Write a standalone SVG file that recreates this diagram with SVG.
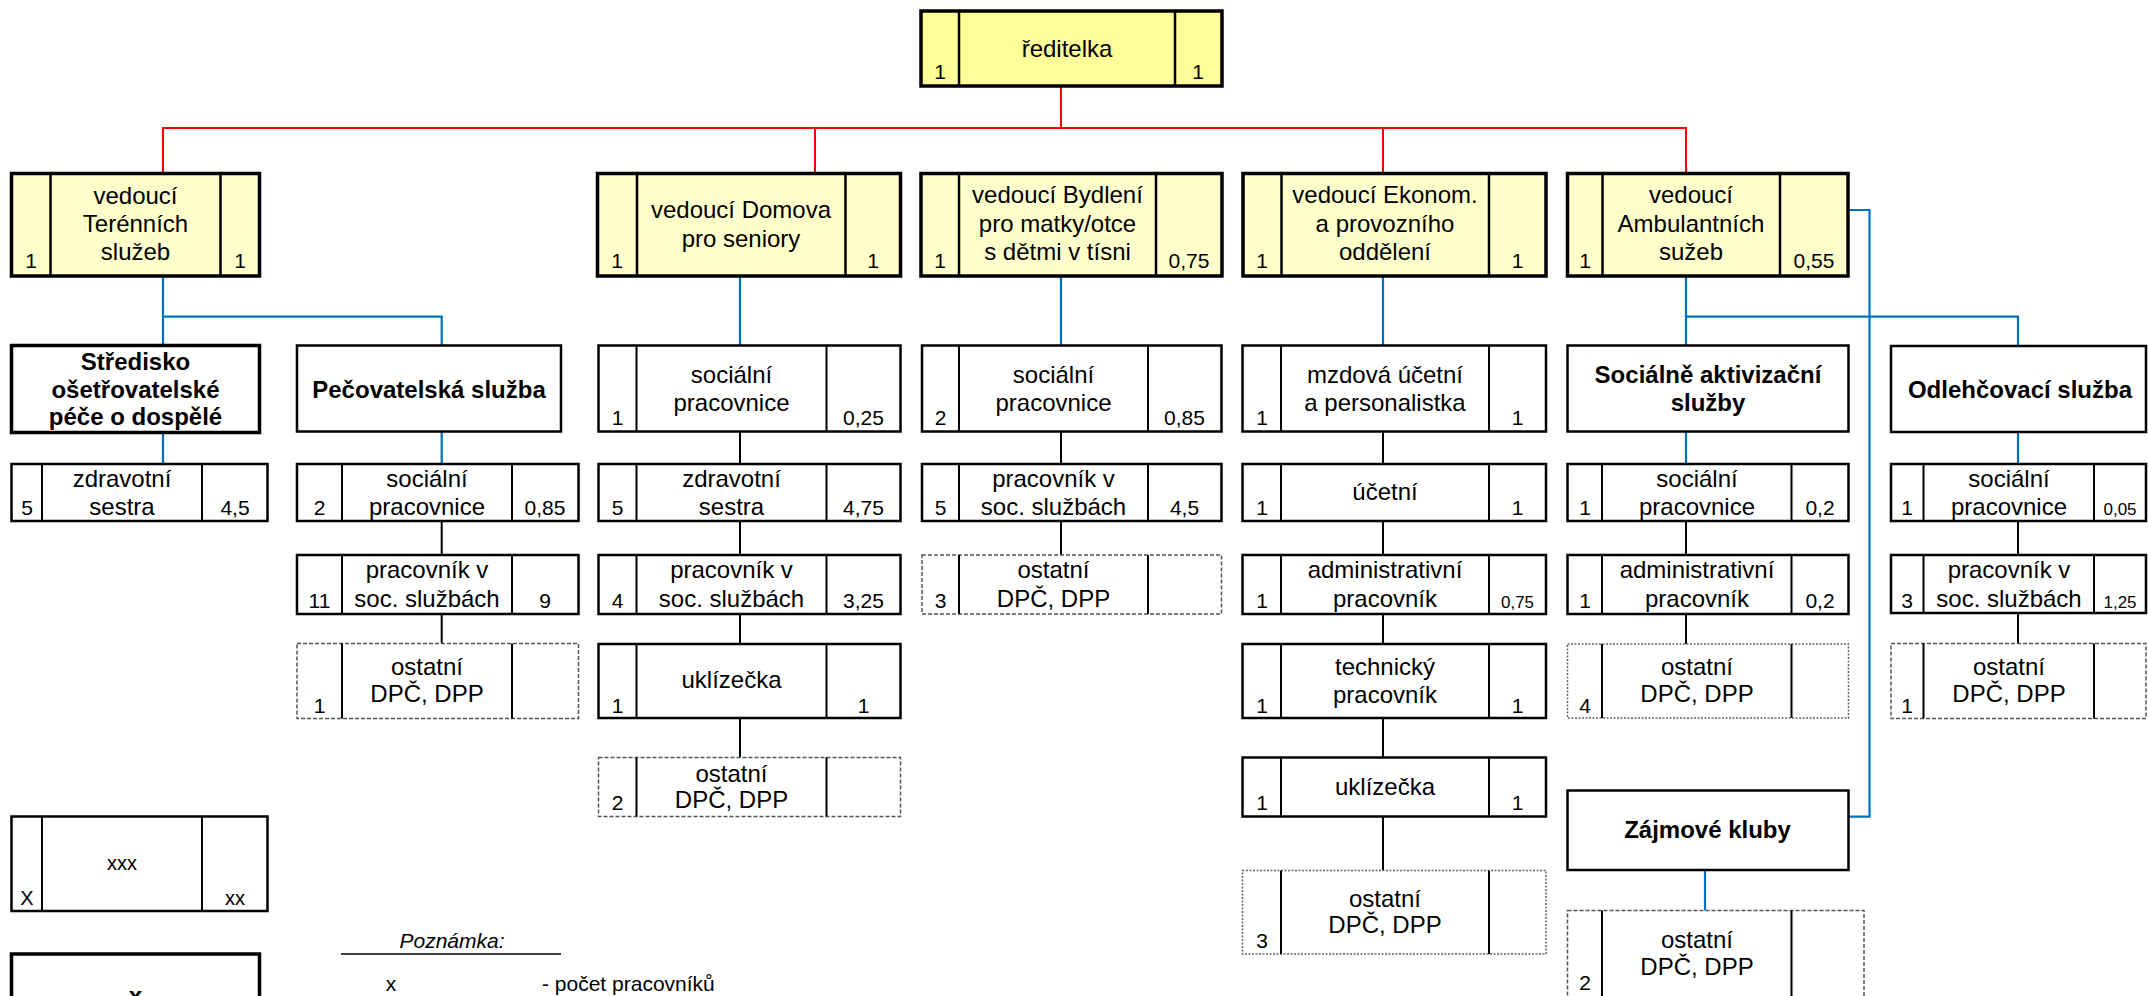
<svg xmlns="http://www.w3.org/2000/svg" width="2148" height="996" viewBox="0 0 2148 996">
<style>
.b0{fill:#FFFF99;stroke:#000;stroke-width:3.5}
.b1{fill:#FFFFCC;stroke:#000;stroke-width:3.5}
.bx{fill:#fff;stroke:#000;stroke-width:2.5}
.bt{fill:#fff;stroke:#000;stroke-width:3.5}
.bd{fill:#fff;stroke:#555;stroke-width:1.5;stroke-dasharray:4 2}
.bf{fill:#fff;stroke:#666;stroke-width:1.5;stroke-dasharray:2 1.5}
.dv{stroke:#000;stroke-width:2;fill:none}
.dv1{stroke:#000;stroke-width:2.5;fill:none}
text{font-family:"Liberation Sans",Arial,sans-serif;font-size:24px;text-anchor:middle;fill:#000}
.n{font-size:21px}
.s{font-size:17px}
.h{font-weight:bold}
.lg{font-size:20px}
.it{font-style:italic}
text.st{text-anchor:start}
.red{stroke:#FF0000;stroke-width:2;fill:none}
.blue{stroke:#0070C0;stroke-width:2.2;fill:none}
.blk{stroke:#000;stroke-width:2;fill:none}
.ul{stroke:#000;stroke-width:1.5;fill:none}
</style>
<g id="connectors">
<path class="red" d="M1061,86V128M163,174V128H1686V174M815,128V174M1383,128V174"/>
<path class="blue" d="M163,276V345.5M163,316.7H441.7V345.5M163,432.5V464M441.7,431.5V464"/>
<path class="blue" d="M740,276V345.5M1061,276V345.5M1383,276V345.5"/>
<path class="blue" d="M1686,276V345.5M1686,316.7H2018V346M1686,431.5V464M2018,432V464"/>
<path class="blue" d="M1848,210H1869.5V816.7H1848M1705,870V910.5"/>
<path class="blk" d="M441.7,521V555M441.7,614V643.5"/>
<path class="blk" d="M740,431.5V464M740,521V555M740,614V644M740,718V757.5"/>
<path class="blk" d="M1061,431.5V464M1061,521V555"/>
<path class="blk" d="M1383,431.5V464M1383,521V555M1383,614V644M1383,718V757.5M1383,816.5V870.5"/>
<path class="blk" d="M1686,521V555M1686,614V644M2018,521V555M2018,613V643.5"/>
</g>
<g id="n-reditelka">
<rect class="b0" x="921" y="11" width="301" height="75"/>
<path class="dv1" d="M959,11V86M1175,11V86"/>
<text x="1067" y="57">ředitelka</text>
<text class="n" x="940" y="79">1</text><text class="n" x="1198" y="79">1</text>
</g>
<g id="n-terenni">
<rect class="b1" x="11.5" y="173.5" width="248" height="102.5"/>
<path class="dv1" d="M50.5,173.5V276M220.5,173.5V276"/>
<text x="135.5" y="204">vedoucí</text><text x="135.5" y="232">Terénních</text><text x="135.5" y="260">služeb</text>
<text class="n" x="31" y="268">1</text><text class="n" x="240" y="268">1</text>
</g>
<g id="n-domov">
<rect class="b1" x="597.5" y="173.5" width="303" height="102.5"/>
<path class="dv1" d="M637,173.5V276M845.5,173.5V276"/>
<text x="741" y="218">vedoucí Domova</text><text x="741" y="247">pro seniory</text>
<text class="n" x="617" y="268">1</text><text class="n" x="873" y="268">1</text>
</g>
<g id="n-bydleni">
<rect class="b1" x="921" y="173.5" width="301" height="102.5"/>
<path class="dv1" d="M959,173.5V276M1156,173.5V276"/>
<text x="1057.5" y="203">vedoucí Bydlení</text><text x="1057.5" y="232">pro matky/otce</text><text x="1057.5" y="260">s dětmi v tísni</text>
<text class="n" x="940" y="268">1</text><text class="n" x="1189" y="268">0,75</text>
</g>
<g id="n-ekonom">
<rect class="b1" x="1243" y="173.5" width="303" height="102.5"/>
<path class="dv1" d="M1281.5,173.5V276M1489,173.5V276"/>
<text x="1385" y="203">vedoucí Ekonom.</text><text x="1385" y="232">a provozního</text><text x="1385" y="260">oddělení</text>
<text class="n" x="1262" y="268">1</text><text class="n" x="1517.5" y="268">1</text>
</g>
<g id="n-ambulantni">
<rect class="b1" x="1567.5" y="173.5" width="280.5" height="102.5"/>
<path class="dv1" d="M1602.5,173.5V276M1780,173.5V276"/>
<text x="1691" y="203">vedoucí</text><text x="1691" y="232">Ambulantních</text><text x="1691" y="260">sužeb</text>
<text class="n" x="1585" y="268">1</text><text class="n" x="1814" y="268">0,55</text>
</g>
<g id="n-stredisko">
<rect class="bt" x="11.5" y="345.5" width="248" height="87"/>
<text class="h" x="135.5" y="370">Středisko</text><text class="h" x="135.5" y="398">ošetřovatelské</text><text class="h" x="135.5" y="425">péče o dospělé</text>
</g>
<g id="n-stredisko-zdrav">
<rect class="bx" x="11.5" y="464" width="256" height="57"/>
<path class="dv" d="M42,464V521M202,464V521"/>
<text x="122" y="486.7">zdravotní</text><text x="122" y="515">sestra</text>
<text class="n" x="27" y="515">5</text><text class="n" x="235" y="515">4,5</text>
</g>
<g id="n-pecovatelska">
<rect class="bx" x="297" y="345.5" width="264" height="86"/>
<text class="h" x="429" y="398">Pečovatelská služba</text>
</g>
<g id="n-pec-soc">
<rect class="bx" x="297" y="464" width="281.5" height="57"/>
<path class="dv" d="M342,464V521M512,464V521"/>
<text x="427" y="486.7">sociální</text><text x="427" y="515">pracovnice</text>
<text class="n" x="319.5" y="515">2</text><text class="n" x="545" y="515">0,85</text>
</g>
<g id="n-pec-prac">
<rect class="bx" x="297" y="555" width="281.5" height="59"/>
<path class="dv" d="M342,555V614M512,555V614"/>
<text x="427" y="578">pracovník v</text><text x="427" y="606.7">soc. službách</text>
<text class="n" x="319.5" y="608">11</text><text class="n" x="545" y="608">9</text>
</g>
<g id="n-pec-ost">
<rect class="bd" x="297" y="643.5" width="281.5" height="75"/>
<path class="dv" d="M342,643.5V718.5M512,643.5V718.5"/>
<text x="427" y="675">ostatní</text><text x="427" y="701.7">DPČ, DPP</text>
<text class="n" x="319.5" y="713">1</text>
</g>
<g id="n-dom-soc">
<rect class="bx" x="598.5" y="345.5" width="302" height="86"/>
<path class="dv" d="M636.5,345.5V431.5M826.5,345.5V431.5"/>
<text x="731.5" y="383">sociální</text><text x="731.5" y="411">pracovnice</text>
<text class="n" x="617.5" y="425">1</text><text class="n" x="863.5" y="425">0,25</text>
</g>
<g id="n-dom-zdrav">
<rect class="bx" x="598.5" y="464" width="302" height="57"/>
<path class="dv" d="M636.5,464V521M826.5,464V521"/>
<text x="731.5" y="486.7">zdravotní</text><text x="731.5" y="515">sestra</text>
<text class="n" x="617.5" y="515">5</text><text class="n" x="863.5" y="515">4,75</text>
</g>
<g id="n-dom-prac">
<rect class="bx" x="598.5" y="555" width="302" height="59"/>
<path class="dv" d="M636.5,555V614M826.5,555V614"/>
<text x="731.5" y="578">pracovník v</text><text x="731.5" y="606.7">soc. službách</text>
<text class="n" x="617.5" y="608">4</text><text class="n" x="863.5" y="608">3,25</text>
</g>
<g id="n-dom-ukl">
<rect class="bx" x="598.5" y="644" width="302" height="74"/>
<path class="dv" d="M636.5,644V718M826.5,644V718"/>
<text x="731.5" y="688">uklízečka</text>
<text class="n" x="617.5" y="713">1</text><text class="n" x="863.5" y="713">1</text>
</g>
<g id="n-dom-ost">
<rect class="bd" x="598.5" y="757.5" width="302" height="59"/>
<path class="dv" d="M636.5,757.5V816.5M826.5,757.5V816.5"/>
<text x="731.5" y="781.7">ostatní</text><text x="731.5" y="808">DPČ, DPP</text>
<text class="n" x="617.5" y="810">2</text>
</g>
<g id="n-byd-soc">
<rect class="bx" x="922" y="345.5" width="299.5" height="86"/>
<path class="dv" d="M959,345.5V431.5M1148,345.5V431.5"/>
<text x="1053.5" y="383">sociální</text><text x="1053.5" y="411">pracovnice</text>
<text class="n" x="940.5" y="425">2</text><text class="n" x="1184.5" y="425">0,85</text>
</g>
<g id="n-byd-prac">
<rect class="bx" x="922" y="464" width="299.5" height="57"/>
<path class="dv" d="M959,464V521M1148,464V521"/>
<text x="1053.5" y="486.7">pracovník v</text><text x="1053.5" y="515">soc. službách</text>
<text class="n" x="940.5" y="515">5</text><text class="n" x="1184.5" y="515">4,5</text>
</g>
<g id="n-byd-ost">
<rect class="bd" x="922" y="555" width="299.5" height="59"/>
<path class="dv" d="M959,555V614M1148,555V614"/>
<text x="1053.5" y="578">ostatní</text><text x="1053.5" y="606.7">DPČ, DPP</text>
<text class="n" x="940.5" y="608">3</text>
</g>
<g id="n-eko-mzd">
<rect class="bx" x="1242.5" y="345.5" width="303.5" height="86"/>
<path class="dv" d="M1281,345.5V431.5M1489,345.5V431.5"/>
<text x="1385" y="383">mzdová účetní</text><text x="1385" y="411">a personalistka</text>
<text class="n" x="1262" y="425">1</text><text class="n" x="1517.5" y="425">1</text>
</g>
<g id="n-eko-uct">
<rect class="bx" x="1242.5" y="464" width="303.5" height="57"/>
<path class="dv" d="M1281,464V521M1489,464V521"/>
<text x="1385" y="500">účetní</text>
<text class="n" x="1262" y="515">1</text><text class="n" x="1517.5" y="515">1</text>
</g>
<g id="n-eko-adm">
<rect class="bx" x="1242.5" y="555" width="303.5" height="59"/>
<path class="dv" d="M1281,555V614M1489,555V614"/>
<text x="1385" y="578">administrativní</text><text x="1385" y="606.7">pracovník</text>
<text class="n" x="1262" y="608">1</text><text class="s" x="1517.5" y="608">0,75</text>
</g>
<g id="n-eko-tech">
<rect class="bx" x="1242.5" y="644" width="303.5" height="74"/>
<path class="dv" d="M1281,644V718M1489,644V718"/>
<text x="1385" y="675">technický</text><text x="1385" y="702.7">pracovník</text>
<text class="n" x="1262" y="713">1</text><text class="n" x="1517.5" y="713">1</text>
</g>
<g id="n-eko-ukl">
<rect class="bx" x="1242.5" y="757.5" width="303.5" height="59"/>
<path class="dv" d="M1281,757.5V816.5M1489,757.5V816.5"/>
<text x="1385" y="795">uklízečka</text>
<text class="n" x="1262" y="810">1</text><text class="n" x="1517.5" y="810">1</text>
</g>
<g id="n-eko-ost">
<rect class="bf" x="1242.5" y="870.5" width="303.5" height="83.5"/>
<path class="dv" d="M1281,870.5V954M1489,870.5V954"/>
<text x="1385" y="906.7">ostatní</text><text x="1385" y="933">DPČ, DPP</text>
<text class="n" x="1262" y="948">3</text>
</g>
<g id="n-sociakt">
<rect class="bx" x="1567.5" y="345.5" width="281" height="86"/>
<text class="h" x="1708" y="383">Sociálně aktivizační</text><text class="h" x="1708" y="411">služby</text>
</g>
<g id="n-sa-soc">
<rect class="bx" x="1567.5" y="464" width="281" height="57"/>
<path class="dv" d="M1602,464V521M1791.5,464V521"/>
<text x="1697" y="486.7">sociální</text><text x="1697" y="515">pracovnice</text>
<text class="n" x="1585" y="515">1</text><text class="n" x="1820" y="515">0,2</text>
</g>
<g id="n-sa-adm">
<rect class="bx" x="1567.5" y="555" width="281" height="59"/>
<path class="dv" d="M1602,555V614M1791.5,555V614"/>
<text x="1697" y="578">administrativní</text><text x="1697" y="606.7">pracovník</text>
<text class="n" x="1585" y="608">1</text><text class="n" x="1820" y="608">0,2</text>
</g>
<g id="n-sa-ost">
<rect class="bf" x="1567.5" y="644" width="281" height="74"/>
<path class="dv" d="M1602,644V718M1791.5,644V718"/>
<text x="1697" y="675">ostatní</text><text x="1697" y="701.7">DPČ, DPP</text>
<text class="n" x="1585" y="713">4</text>
</g>
<g id="n-zajmove">
<rect class="bx" x="1567.5" y="790.5" width="281" height="79.5"/>
<text class="h" x="1707.5" y="838">Zájmové kluby</text>
</g>
<g id="n-zk-ost">
<rect class="bd" x="1567.5" y="910.5" width="296.5" height="100"/>
<path class="dv" d="M1602,910.5V1010M1791.5,910.5V1010"/>
<text x="1697" y="948.3">ostatní</text><text x="1697" y="975">DPČ, DPP</text>
<text class="n" x="1585" y="990">2</text>
</g>
<g id="n-odlehcovaci">
<rect class="bx" x="1891" y="346" width="255" height="86"/>
<text class="h" x="2020" y="398">Odlehčovací služba</text>
</g>
<g id="n-od-soc">
<rect class="bx" x="1891" y="464" width="255" height="57"/>
<path class="dv" d="M1923.5,464V521M2094,464V521"/>
<text x="2009" y="486.7">sociální</text><text x="2009" y="515">pracovnice</text>
<text class="n" x="1907" y="515">1</text><text class="s" x="2120" y="515">0,05</text>
</g>
<g id="n-od-prac">
<rect class="bx" x="1891" y="555" width="255" height="58"/>
<path class="dv" d="M1923.5,555V613M2094,555V613"/>
<text x="2009" y="578">pracovník v</text><text x="2009" y="606.7">soc. službách</text>
<text class="n" x="1907" y="608">3</text><text class="s" x="2120" y="608">1,25</text>
</g>
<g id="n-od-ost">
<rect class="bd" x="1891" y="643.5" width="255" height="75"/>
<path class="dv" d="M1923.5,643.5V718.5M2094,643.5V718.5"/>
<text x="2009" y="675">ostatní</text><text x="2009" y="701.7">DPČ, DPP</text>
<text class="n" x="1907" y="713">1</text>
</g>
<g id="legend-box">
<rect class="bx" x="11.5" y="816.5" width="256" height="94.5"/>
<path class="dv" d="M42,816.5V911M202,816.5V911"/>
<text class="lg" x="122" y="870">xxx</text>
<text class="lg" x="27" y="905">X</text><text class="lg" x="235" y="905">xx</text>
</g>
<g id="legend-box2">
<rect class="bt" x="11.5" y="954" width="248" height="70"/>
<text class="h" x="135.5" y="1004">x</text>
</g>
<g id="legend-note">
<text class="n it" x="452" y="948">Poznámka:</text>
<path class="ul" d="M341,954H561"/>
<text class="n" x="391" y="991">x</text>
<text class="n st" x="542" y="991">- počet pracovníků</text>
</g>
</svg>
